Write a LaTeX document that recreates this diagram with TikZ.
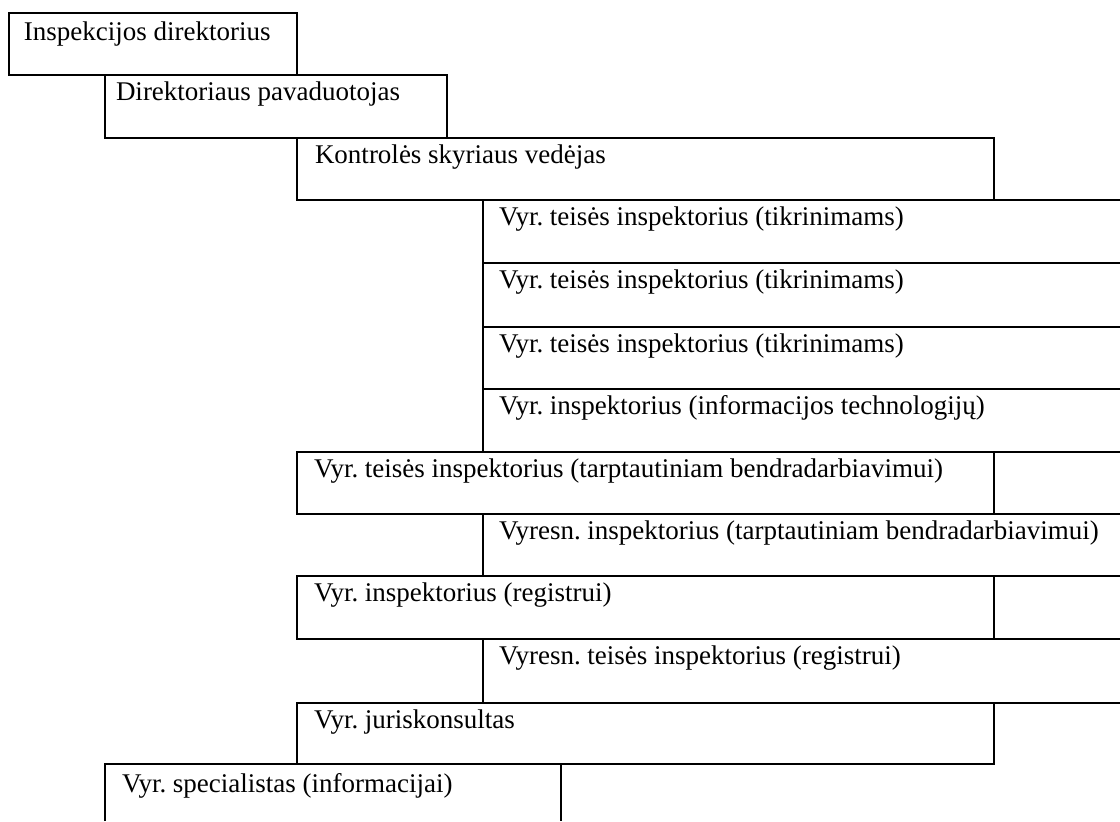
\documentclass[tikz,border=0pt]{standalone}
\usepackage{fontspec}
\setmainfont{Liberation Serif}
\frenchspacing

\begin{document}
\begin{tikzpicture}[x=0.5pt, y=-0.5pt, line width=1pt,
    cell/.style={anchor=base west, inner sep=0pt, font=\fontsize{13.5}{16}\selectfont}]
    \useasboundingbox (0,0) rectangle (1120,821);

    % Director and deputy
    \draw (9,13) rectangle (297,75);
    \draw (105,75) rectangle (447,138);
    \node[cell] (director) at (23,40) {Inspekcijos direktorius};
    \node[cell] (deputy) at (115,100) {Direktoriaus pavaduotojas};

    % Head of the control division
    \draw (297,138) rectangle (994,200);
    \draw (994,200) -- (1120,200);
    \node[cell] (head) at (314,163) {Kontrolės skyriaus vedėjas};

    % Inspectors under the head (open to the right)
    \draw (483,200) -- (483,452);
    \foreach \y in {263,327,389}
        \draw (483,\y) -- (1120,\y);
    \foreach \y/\name/\txt in {200/inspA/{Vyr. teisės inspektorius (tikrinimams)},
                               263/inspB/{Vyr. teisės inspektorius (tikrinimams)},
                               327/inspC/{Vyr. teisės inspektorius (tikrinimams)},
                               389/inspIT/{Vyr. inspektorius (informacijos technologijų)}}
        \node[cell] (\name) at (498,{\y+25}) {\txt};

    % Wide boxes with a tail to the right edge
    \draw (297,452) rectangle (994,514);
    \draw (297,576) rectangle (994,639);
    \draw (297,703) rectangle (994,764);
    \foreach \y in {452,514,576,639,703}
        \draw (994,\y) -- (1120,\y);
    \node[cell] (intl) at (313,477) {Vyr. teisės inspektorius (tarptautiniam bendradarbiavimui)};
    \node[cell] (reg) at (313,601) {Vyr. inspektorius (registrui)};
    \node[cell] (lawyer) at (313,728) {Vyr. juriskonsultas};

    % Senior inspectors between the wide boxes
    \draw (483,514) -- (483,576);
    \draw (483,639) -- (483,703);
    \node[cell] (intlS) at (498,539) {Vyresn. inspektorius (tarptautiniam bendradarbiavimui)};
    \node[cell] (regS) at (498,664) {Vyresn. teisės inspektorius (registrui)};

    % Specialist at the bottom
    \draw (105,821) -- (105,764) -- (561,764) -- (561,821);
    \node[cell] (spec) at (121,792) {Vyr. specialistas (informacijai)};
\end{tikzpicture}
\end{document}
